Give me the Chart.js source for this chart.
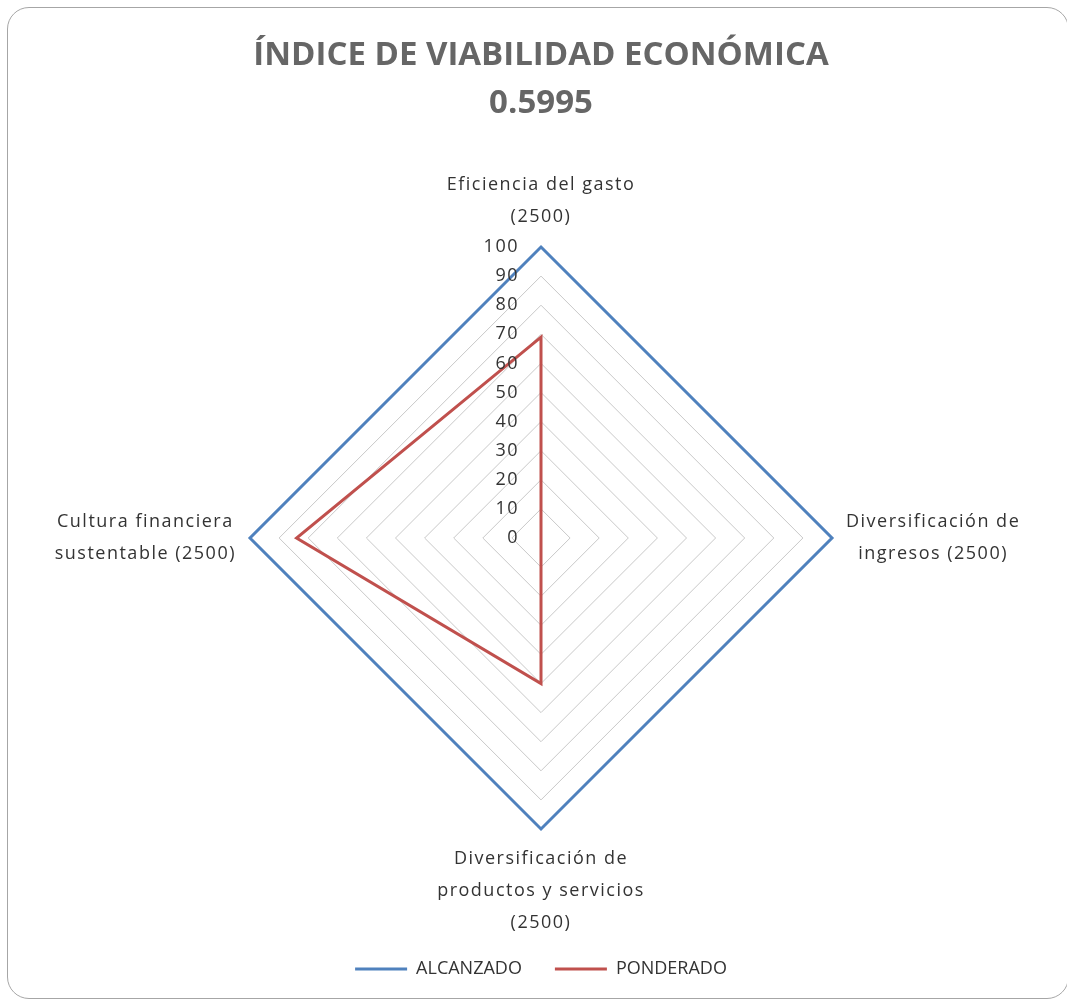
<!DOCTYPE html>
<html>
<head>
<meta charset="utf-8">
<script src="https://cdn.jsdelivr.net/npm/chart.js@4.4.1/dist/chart.umd.min.js"></script>
<style>
  body { margin: 0; background: #fff; }
  #wrap { position: relative; width: 1067px; height: 1001px; overflow: hidden; }
  #frame {
    position: absolute; left: 7px; top: 7px; width: 1060px; height: 990px;
    border: 1.5px solid #a6a6a6; border-radius: 22px; pointer-events: none;
  }
</style>
</head>
<body>
<div id="wrap">
  <canvas id="myChart" width="1067" height="1001"></canvas>
  <div id="frame"></div>
</div>
<script>
const titleLines = ["ÍNDICE DE VIABILIDAD ECONÓMICA", "0.5995"];
const categories = [
  ["Eficiencia del gasto", "(2500)"],
  ["Diversificación de", "ingresos (2500)"],
  ["Diversificación de", "productos y servicios", "(2500)"],
  ["Cultura financiera", "sustentable (2500)"]
];
const seriesNames = ["ALCANZADO", "PONDERADO"];
const alcanzado = [100, 100, 100, 100];
const ponderado = [69, 0, 50, 84];
const tickValues = [0, 10, 20, 30, 40, 50, 60, 70, 80, 90, 100];

const textColor = "#333333";
const labelFont = "18px 'Open Sans'";

// axis labels and tick numbers are drawn here so the lines can be centred like in Excel
const labelPlugin = {
  id: 'excelLabels',
  afterDraw(chart) {
    const scale = chart.scales.r;
    const ctx = chart.ctx;
    const lineH = 32;
    const pad = 14;
    ctx.save();
    ctx.font = labelFont;
    ctx.fillStyle = textColor;
    ctx.letterSpacing = '1.5px';
    ctx.textBaseline = 'middle';
    ctx.textAlign = 'center';

    categories.forEach((lines, i) => {
      const pos = scale.getPointPosition(i, scale.drawingArea + pad);
      const widths = lines.map(l => ctx.measureText(l).width);
      const maxW = Math.max(...widths);
      const h = lines.length * lineH;
      let cx = pos.x, top = pos.y;
      if (i === 0) { top = pos.y - h; }
      else if (i === 1) { cx = pos.x + maxW / 2; top = pos.y - h / 2; }
      else if (i === 2) { top = pos.y; }
      else { cx = pos.x - maxW / 2; top = pos.y - h / 2; }
      lines.forEach((l, k) => {
        ctx.fillText(l, cx, top + lineH / 2 + k * lineH);
      });
    });

    ctx.textAlign = 'right';
    tickValues.forEach(v => {
      const p = scale.getPointPositionForValue(0, v);
      ctx.fillText(String(v), p.x - 22, p.y);
    });
    ctx.restore();
  }
};

new Chart("myChart", {
  type: "radar",
  data: {
    labels: categories,
    datasets: [{
      label: seriesNames[0],
      data: alcanzado,
      borderColor: "#4f81bd",
      backgroundColor: "#4f81bd",
      borderWidth: 3,
      pointRadius: 0,
      fill: false
    }, {
      label: seriesNames[1],
      data: ponderado,
      borderColor: "#c0504d",
      backgroundColor: "#c0504d",
      borderWidth: 3,
      pointRadius: 0,
      fill: false
    }]
  },
  options: {
    responsive: false,
    animation: false,
    layout: {
      padding: { left: 250, right: 235, top: 0, bottom: 13 }
    },
    scales: {
      r: {
        min: 0,
        max: 100,
        ticks: { display: false, stepSize: 10 },
        pointLabels: { display: false },
        angleLines: { display: false },
        grid: { color: "#c8c8c8", lineWidth: 1 }
      }
    },
    plugins: {
      title: {
        display: true,
        text: titleLines,
        color: "#666666",
        font: { family: "'Open Sans'", size: 33, weight: "bold", lineHeight: 1.45 },
        padding: { top: 32, bottom: 23 }
      },
      legend: {
        position: "bottom",
        labels: {
          usePointStyle: true,
          pointStyle: "line",
          pointStyleWidth: 52,
          padding: 33,
          color: textColor,
          font: { family: "'Open Sans'", size: 18 }
        }
      },
      tooltip: { enabled: false }
    }
  },
  plugins: [labelPlugin]
});
</script>
</body>
</html>
